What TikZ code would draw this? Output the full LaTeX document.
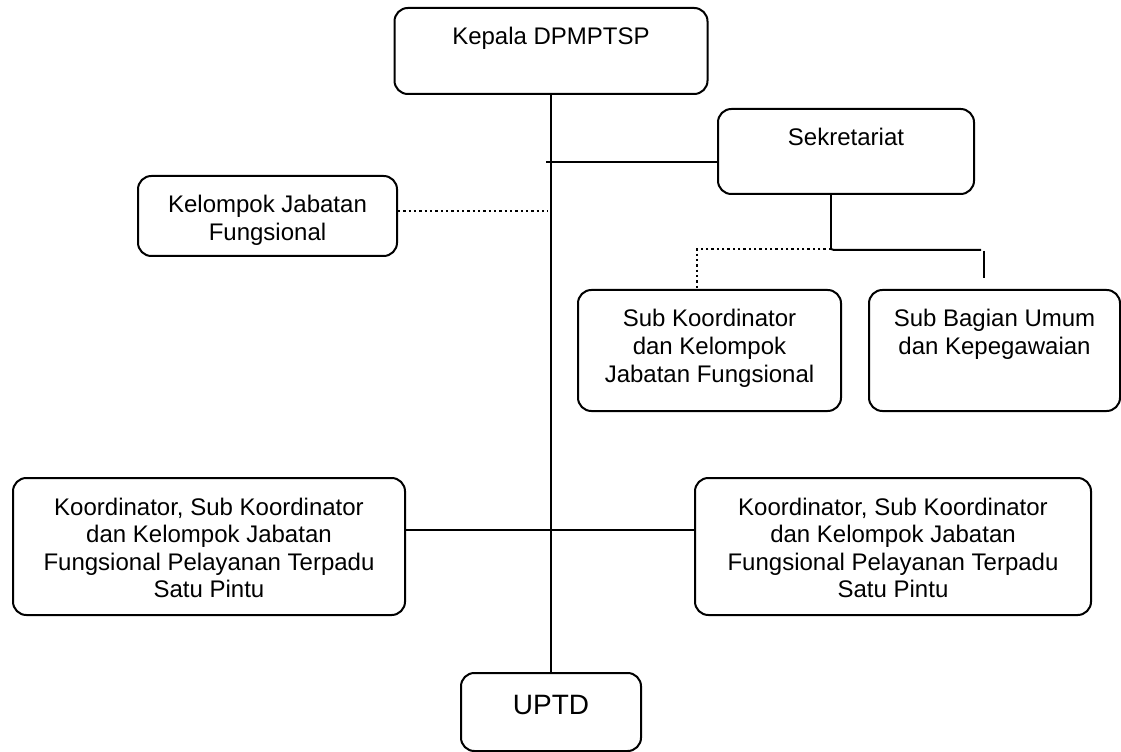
\documentclass[tikz,border=0pt]{standalone}
\usepackage{fontspec}
\setmainfont{Liberation Sans}
\usepackage{tikz}
\newdimen\px
\px=0.75pt
\newcommand{\isikotak}[4]{\parbox[c][#2\px][t]{#1\px}{\centering\rule{0pt}{#3\px}#4}}

\begin{document}
\begin{tikzpicture}[x=0.75pt,y=-0.75pt,
	kotak/.style={draw,rounded corners=10pt,line width=1.5pt,inner sep=0pt,anchor=north west,font=\fontsize{18}{20.7}\selectfont},
	garis/.style={line width=1.5pt},
	titik/.style={line width=1.8pt,dash pattern=on 1.8pt off 2.2pt}]
			\useasboundingbox (0,0) rectangle (1121,752);
			\node[kotak] (kepala) at (393.5,7) {\isikotak{313}{86}{37}{Kepala DPMPTSP}};
			\node[kotak] (sekretariat) at (717,108) {\isikotak{256}{85}{37}{Sekretariat}};
			\node[kotak] (kelompok) at (137,175) {\isikotak{259}{80}{37}{Kelompok Jabatan\\Fungsional}};
			\node[kotak] (subkoord) at (577,289) {\isikotak{263}{121}{37}{Sub Koordinator\\dan Kelompok\\Jabatan Fungsional}};
			\node[kotak] (subbagian) at (868,289) {\isikotak{251}{121}{37}{Sub Bagian Umum\\dan Kepegawaian}};
			\node[kotak] (koordkiri) at (12,477) {\isikotak{392}{137}{37}{Koordinator, Sub Koordinator\\dan Kelompok Jabatan\\Fungsional Pelayanan Terpadu\\Satu Pintu}};
			\node[kotak] (koordkanan) at (694,477) {\isikotak{396}{137}{37}{Koordinator, Sub Koordinator\\dan Kelompok Jabatan\\Fungsional Pelayanan Terpadu\\Satu Pintu}};
			\node[kotak,font=\fontsize{21}{24}\selectfont] (uptd) at (460,672) {\isikotak{180}{78}{41}{UPTD}};
			
			\coordinate (sek masuk) at (546,162);
			\coordinate (kel ujung) at (548,211);
			\coordinate (sek bawah) at (831,249);
			\coordinate (cab kiri) at (697,289);
			\coordinate (cab kanan) at (981,250);
			\coordinate (kanan atas) at (984,251);
			\coordinate (kanan bawah) at (984,278);
			\coordinate (tengah) at (550,530);
			
			\draw[garis] (kepala.south) -- (uptd.north);
			\draw[garis] (sek masuk) -- (sek masuk -| sekretariat.west);
			\draw[titik] (kelompok.east |- kel ujung) -- (kel ujung);
			\draw[garis] (sek bawah |- sekretariat.south) -- (sek bawah);
			\draw[titik] (sek bawah) -| (cab kiri);
			\draw[garis] (sek bawah) -- ++(3,1) -- (cab kanan);
			\draw[garis] (kanan atas) -- (kanan bawah);
			\draw[garis] (koordkiri.east |- tengah) -- (koordkanan.west |- tengah);
		\end{tikzpicture}
\end{document}
